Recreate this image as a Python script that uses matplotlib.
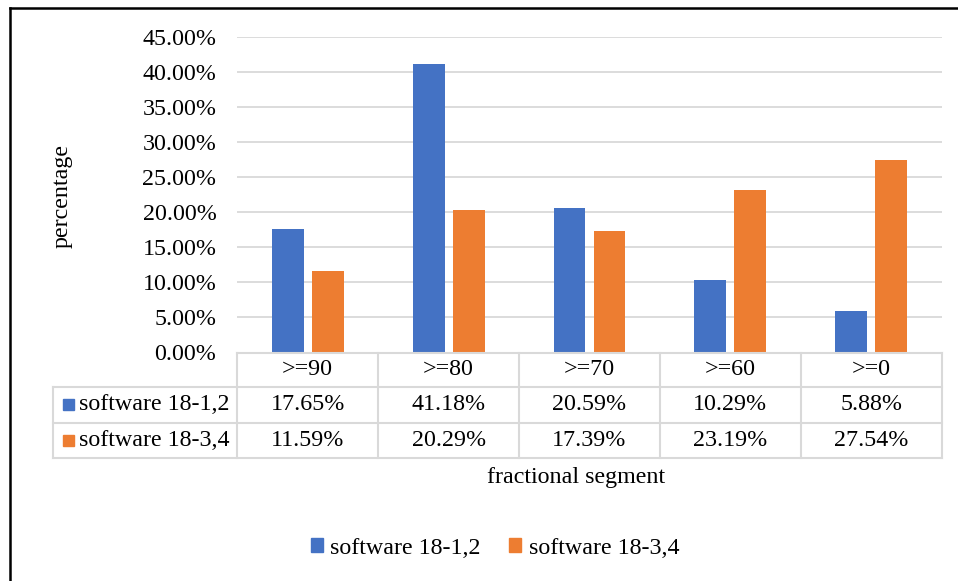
import numpy as np
import matplotlib.pyplot as plt
import matplotlib.transforms as mtransforms
from matplotlib.patches import Rectangle, Patch
from matplotlib.lines import Line2D

plt.rcParams['font.family'] = ['Liberation Serif', 'DejaVu Serif']

# data
categories = [">=90", ">=80", ">=70", ">=60", ">=0"]
series_names = ["software 18-1,2", "software 18-3,4"]
software_12 = [17.65, 41.18, 20.59, 10.29, 5.88]
software_34 = [11.59, 20.29, 17.39, 23.19, 27.54]
colors = ["#4472C4", "#ED7D31"]

W, H = 958, 581
FS = 17.3
GRID = "#d9d9d9"


def fx(px):
    return px / W


def fy(py):
    return 1 - py / H


fig = plt.figure(figsize=(W / 100, H / 100), dpi=100)
ax = fig.add_axes([fx(237.3), fy(352.5), fx(941.7) - fx(237.3), fy(37.3) - fy(352.5)])

x = np.arange(len(categories))
bw = 0.227
off = 0.142
ax.bar(x - off, np.array(software_12) / 100, bw, color=colors[0], zorder=3)
ax.bar(x + off, np.array(software_34) / 100, bw, color=colors[1], zorder=3)

ax.set_xlim(-0.5, len(categories) - 0.5)
ax.set_ylim(0, 0.45)
ax.set_yticks(np.arange(0, 0.451, 0.05))
ax.set_yticklabels([f"{v * 100:.2f}%" for v in np.arange(0, 0.451, 0.05)], fontsize=FS)
ax.tick_params(axis='y', length=0, pad=15)
ax.set_xticks([])
ax.grid(axis='y', color=GRID, linewidth=1.3, zorder=0)
for s in ax.spines.values():
    s.set_visible(False)

# data table under the plot, columns follow the category axis
trans = mtransforms.blended_transform_factory(ax.transData, fig.transFigure)
row_y = [352.5, 387.0, 422.5, 457.7]
left_px = 53.3
x0, x1 = -0.5, len(categories) - 0.5
lw = 1.5

fig.add_artist(Line2D([x0, x1], [fy(row_y[0])] * 2, transform=trans, color=GRID, lw=lw))
for ry in row_y[1:]:
    fig.add_artist(Line2D([fx(left_px), fx(941.7)], [fy(ry)] * 2, transform=fig.transFigure, color=GRID, lw=lw))
for b in np.arange(x0, x1 + 0.01, 1.0):
    fig.add_artist(Line2D([b, b], [fy(row_y[0]), fy(row_y[-1])], transform=trans, color=GRID, lw=lw))
fig.add_artist(Line2D([fx(left_px)] * 2, [fy(row_y[1]), fy(row_y[-1])], transform=fig.transFigure, color=GRID, lw=lw))

for i, c in enumerate(categories):
    fig.text(i, fy((row_y[0] + row_y[1]) / 2), c, transform=trans, ha='center', va='center', fontsize=FS)

for r, (name, vals) in enumerate(zip(series_names, [software_12, software_34])):
    yc = (row_y[r + 1] + row_y[r + 2]) / 2
    fig.add_artist(Rectangle((fx(63), fy(yc + 5.5)), fx(11), fy(0) - fy(11), transform=fig.transFigure,
                             color=colors[r]))
    fig.text(fx(79), fy(yc), name, ha='left', va='center', fontsize=FS)
    for i, v in enumerate(vals):
        fig.text(i, fy(yc), f"{v:.2f}%", transform=trans, ha='center', va='center', fontsize=FS)

fig.text(fx(62), fy(196), "percentage", rotation=90, ha='center', va='center', fontsize=FS)
fig.text(fx(576), fy(478), "fractional segment", ha='center', va='center', fontsize=FS)

handles = [Patch(color=colors[0]), Patch(color=colors[1])]
fig.legend(handles, series_names, loc='center', bbox_to_anchor=(fx(495), fy(548)), ncol=2,
           frameon=False, fontsize=FS, handlelength=0.5, handleheight=0.5, handletextpad=0.3,
           columnspacing=1.2)

# outer frame
fig.add_artist(Line2D([fx(9.5), 1], [fy(8)] * 2, transform=fig.transFigure, color='black', lw=1.8))
fig.add_artist(Line2D([fx(9.5)] * 2, [fy(8), 0], transform=fig.transFigure, color='black', lw=1.8))

fig.savefig("out.png", dpi=100)
